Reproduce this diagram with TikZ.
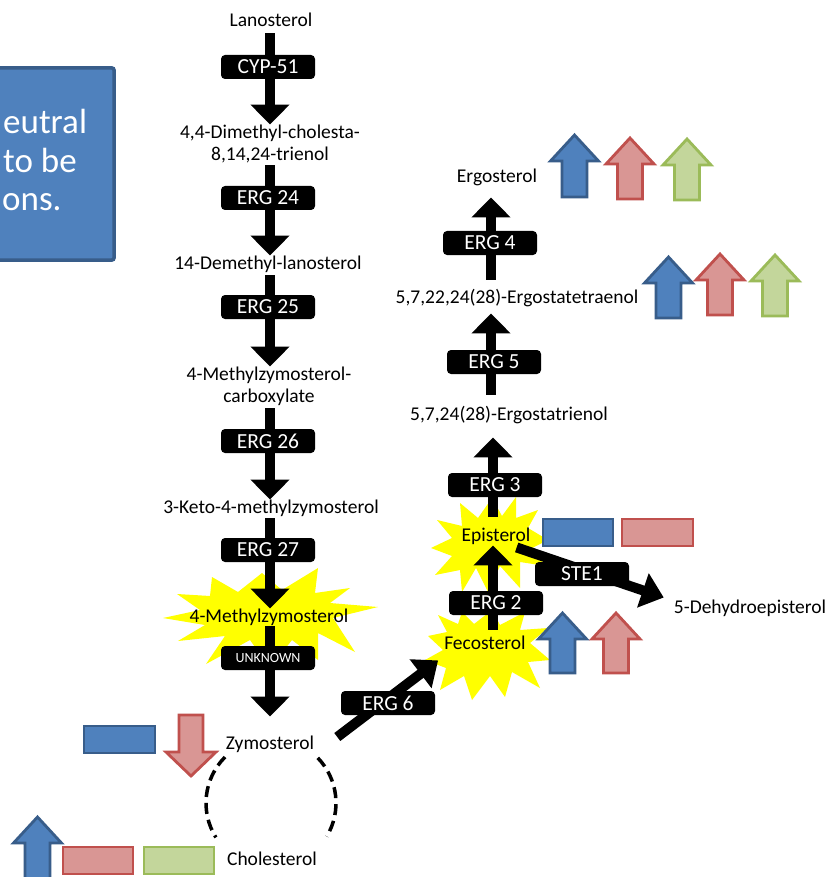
\documentclass[tikz,border=0pt]{standalone}
\usepackage{fontspec}
\setmainfont{Carlito}
\usetikzlibrary{arrows.meta,calc}

\definecolor{bluefill}{HTML}{4F81BD}
\definecolor{blueline}{HTML}{385D8A}
\definecolor{redfill}{HTML}{D99694}
\definecolor{redline}{HTML}{C0504D}
\definecolor{greenfill}{HTML}{C3D69B}
\definecolor{greenline}{HTML}{9BBB59}
\definecolor{burst}{HTML}{FFFF00}

% block arrow pointing up: centre x, top y, bottom y, style
\newcommand{\upblock}[4]{%
  \filldraw[#4] (#1-12.5,#3) -- (#1-12.5,#2+26) -- (#1-24,#2+26) -- (#1,#2)
    -- (#1+24,#2+26) -- (#1+12.5,#2+26) -- (#1+12.5,#3) -- cycle;}
% block arrow pointing down: centre x, top y, tip y, style
\newcommand{\downblock}[4]{%
  \filldraw[#4] (#1-12,#2) -- (#1+12,#2) -- (#1+12,#3-24) -- (#1+25,#3-24)
    -- (#1,#3) -- (#1-25,#3-24) -- (#1-12,#3-24) -- cycle;}

\begin{document}
\begin{tikzpicture}[x=1pt,y=-1pt,
  cmp/.style={font=\fontsize{19.5pt}{23pt}\selectfont, inner sep=0pt,
    text height=13.5pt, text depth=4pt},
  enz/.style={fill=black, text=white, rounded corners=4pt, minimum width=94pt,
    minimum height=24pt, inner sep=0pt, font=\fontsize{21.5pt}{25pt}\selectfont},
  small enz/.style={enz, font=\fontsize{14pt}{17pt}\selectfont},
  flow/.style={line width=10pt, -{Triangle[width=38pt,length=20pt]}},
  flowd/.style={line width=10pt, -{Triangle[width=35pt,length=22pt]}},
  note/.style={font=\fontsize{35pt}{40pt}\selectfont, text=white, inner sep=0pt},
  bluemark/.style={fill=bluefill, draw=blueline, line width=2.8pt, line join=miter},
  redmark/.style={fill=redfill, draw=redline, line width=2.8pt, line join=miter},
  greenmark/.style={fill=greenfill, draw=greenline, line width=2.8pt, line join=miter},
  ring/.style={line width=3.5pt, dash pattern=on 11pt off 6pt}]

\useasboundingbox (0,0) rectangle (828,877);
\fill[white] (0,0) rectangle (828,877);
\clip (0,0) rectangle (828,877);

% explanatory box at the left edge
\draw[fill=bluefill, draw=blueline, line width=3.5pt, rounded corners=2pt]
  (-40,68) rectangle (114,260);
\node[note, anchor=base west] (n1) at (3,134) {eutral};
\node[note, anchor=base west] (n2) at (3,173) {to be};
\node[note, anchor=base west] (n3) at (2,211) {ons.};

% highlight bursts behind the key intermediates
\fill[burst] (163,618) -- (200,610) -- (177,594) -- (210,596) -- (212,577)
  -- (238,592) -- (262,573) -- (282,590) -- (318,568) -- (315,593) -- (350,588)
  -- (330,603) -- (378,607) -- (333,618) -- (355,652) -- (318,633) -- (318,660)
  -- (292,640) -- (270,668) -- (250,640) -- (206,664) -- (225,636) -- (178,641)
  -- (205,625) -- cycle;
\fill[burst] (460,503) -- (478,518) -- (492,498) -- (502,516) -- (516,497)
  -- (516,518) -- (538,510) -- (528,528) -- (548,540) -- (532,548) -- (546,566)
  -- (520,562) -- (520,588) -- (500,566) -- (488,592) -- (476,568) -- (462,592)
  -- (460,570) -- (435,575) -- (452,556) -- (431,548) -- (452,538) -- (437,520)
  -- (462,526) -- cycle;
\fill[burst] (462,612) -- (474,624) -- (492,610) -- (500,625) -- (525,612)
  -- (520,630) -- (548,628) -- (530,643) -- (550,660) -- (528,662) -- (540,688)
  -- (512,672) -- (505,697) -- (490,676) -- (472,700) -- (464,676) -- (440,690)
  -- (446,668) -- (425,660) -- (443,650) -- (428,636) -- (447,632) -- (438,615)
  -- (458,624) -- cycle;

% intermediates
\node[cmp] (lan)      at (271,21.5)  {Lanosterol};
\node[cmp] (dim1)     at (270,133.5) {4,4-Dimethyl-cholesta-};
\node[cmp] (dim2)     at (270,155.5) {8,14,24-trienol};
\node[cmp] (demethyl) at (268,264.5) {14-Demethyl-lanosterol};
\node[cmp] (mzc1)     at (269,375.5) {4-Methylzymosterol-};
\node[cmp] (mzc2)     at (269,397.5) {carboxylate};
\node[cmp] (keto)     at (271,508.5) {3-Keto-4-methylzymosterol};
\node[cmp] (mz)       at (269,617.5) {4-Methylzymosterol};
\node[cmp] (zym)      at (270,744.5) {Zymosterol};
\node[cmp] (chol)     at (272,860.5) {Cholesterol};
\node[cmp] (ergo)     at (497,177.5) {Ergosterol};
\node[cmp] (tetra)    at (517,298.5) {5,7,22,24(28)-Ergostatetraenol};
\node[cmp] (trienol)  at (509,415.5) {5,7,24(28)-Ergostatrienol};
\node[cmp] (epi)      at (496,536.5) {Episterol};
\node[cmp] (feco)     at (485,644.5) {Fecosterol};
\node[cmp] (dehydro)  at (750,608.5) {5-Dehydroepisterol};

% pathway columns
\coordinate (colL) at (270,0);
\coordinate (colA) at (493,0);
\coordinate (colB) at (491,0);

\draw[flow, shorten <=3pt] (colL |- lan.south) -- (colL |- dim1.north);
\draw[flow, shorten <=1pt] (colL |- dim2.south) -- (colL |- demethyl.north);
\draw[flow, shorten <=2pt] (colL |- demethyl.south) -- (colL |- mzc1.north);
\draw[flow, shorten <=2pt] (colL |- mzc2.south) -- (colL |- keto.north);
\draw[flow, shorten <=1pt] (colL |- keto.south) -- (colL |- mz.north);
\draw[flow, shorten >=19pt] (colL |- mz.south) -- (colL |- zym.north);

\draw[flow, shorten <=6pt] (colA |- feco.north) -- (colA |- epi.south);
\draw[flow, shorten <=11pt, shorten >=13pt] (colA |- epi.north) -- (colA |- trienol.south);
\draw[flow, shorten <=12pt, shorten >=6pt] (colB |- trienol.north) -- (colB |- tetra.south);
\draw[flow, shorten <=10pt, shorten >=11pt] (colB |- tetra.north) -- (colB |- ergo.south);

\draw[flowd] ($(zym.east)+(23,-7.5)$) -- ($(feco.south west)+(-6,7)$);
\draw[flowd] ($(epi.south east)+(-14,2)$) -- ($(dehydro.west)+(-10,-11)$);

% enzymes
\node[enz] (cyp51) at (268,67)  {CYP-51};
\node[enz] (erg24) at (268,198) {ERG 24};
\node[enz] (erg25) at (268,307) {ERG 25};
\node[enz] (erg26) at (268,441) {ERG 26};
\node[enz] (erg27) at (268,550) {ERG 27};
\node[small enz] (unk) at (268,658) {UNKNOWN};
\node[enz] (erg6)  at (388,703) {ERG 6};
\node[enz] (erg2)  at (496,603) {ERG 2};
\node[enz] (erg3)  at (495,485) {ERG 3};
\node[enz] (erg5)  at (494,362) {ERG 5};
\node[enz] (erg4)  at (490,243) {ERG 4};
\node[enz] (ste1)  at (582,574) {STE1};

% dashed ring between zymosterol and cholesterol
\draw[ring] (271,803) ++(225:65) arc[start angle=225, end angle=148, radius=65];
\draw[ring] (271,803) ++(-44:65) arc[start angle=-44, end angle=31, radius=65];

% level changes
\upblock{574.5}{135}{197}{bluemark}
\upblock{630}{138}{199}{redmark}
\upblock{687}{139}{200}{greenmark}
\upblock{668.5}{257}{318}{bluemark}
\upblock{720}{254}{315}{redmark}
\upblock{775}{255}{316}{greenmark}
\upblock{562.5}{613}{673}{bluemark}
\upblock{616}{613}{673}{redmark}
\upblock{37.5}{817}{895}{bluemark}
\downblock{191}{715}{776}{redmark}

\draw[bluemark] (543,519) rectangle (613,546);
\draw[redmark] (622,519) rectangle (693,546);
\draw[bluemark] (84,726) rectangle (155,753);
\draw[redmark] (63,847) rectangle (133,874);
\draw[greenmark] (144,847) rectangle (214,874);

\end{tikzpicture}
\end{document}
